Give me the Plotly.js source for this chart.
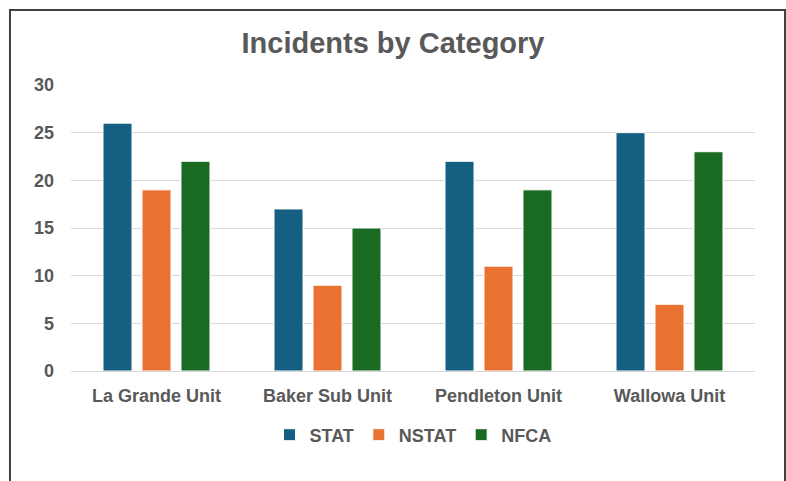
<!DOCTYPE html>
<html>
<head>
<meta charset="utf-8">
<script src="https://cdn.plot.ly/plotly-3.0.1.min.js"></script>
<style>html,body{margin:0;padding:0;background:#fff;}#chart{width:786px;height:481px;}</style>
</head>
<body>
<div id="chart"></div>
<script>
var categories = ["La Grande Unit", "Baker Sub Unit", "Pendleton Unit", "Wallowa Unit"];
var statValues = [26, 17, 22, 25];
var nstatValues = [19, 9, 11, 7];
var nfcaValues = [22, 15, 19, 23];
var seriesNames = ["STAT", "NSTAT", "NFCA"];
var yTicks = [0, 5, 10, 15, 20, 25, 30];

var colors = ["#156082", "#E97132", "#196B24"];
var allValues = [statValues, nstatValues, nfcaValues];
var traces = allValues.map(function (vals, i) {
  return {
    type: "bar",
    name: seriesNames[i],
    x: categories,
    y: vals,
    marker: { color: colors[i], line: { color: "#ffffff", width: 1 } },
    hoverinfo: "x+y+name"
  };
});

var layout = {
  width: 786,
  height: 481,
  margin: { l: 71, r: 31, t: 85, b: 110 },
  paper_bgcolor: "#ffffff",
  plot_bgcolor: "#ffffff",
  font: { family: "Liberation Sans, Arial, sans-serif", color: "#595959" },
  title: {
    text: "<b>Incidents by Category</b>",
    font: { size: 29, color: "#595959" },
    x: 0.5, xanchor: "center",
    y: 1 - 43 / 481, yanchor: "middle", yref: "container"
  },
  barmode: "group",
  bargap: 0.316,
  bargroupgap: 0.256,
  xaxis: {
    tickfont: { size: 18, color: "#595959", weight: "bold" },
    showgrid: false,
    showline: true,
    linecolor: "#d9d9d9",
    linewidth: 1,
    ticks: "",
    ticklabelstandoff: 8
  },
  yaxis: {
    range: [0, 30],
    tickvals: yTicks,
    ticktext: yTicks.map(String),
    tickfont: { size: 18, color: "#595959", weight: "bold" },
    showgrid: true,
    gridcolor: "#d9d9d9",
    gridwidth: 1,
    zeroline: true,
    zerolinecolor: "#d9d9d9",
    showline: false,
    ticks: "",
    ticklabelstandoff: 16,
    fixedrange: true
  },
  legend: {
    orientation: "h",
    x: 0.5, xanchor: "center",
    y: (371 - 435) / 286, yanchor: "middle",
    font: { size: 18, color: "#595959", weight: "bold" },
    itemwidth: 30,
    traceorder: "normal"
  },
  shapes: [{
    type: "path",
    xref: "paper", yref: "paper",
    path: "M -0.0892 -0.45 L -0.0892 1.2622 L 1.0439 1.2622 L 1.0439 -0.45",
    line: { color: "#404040", width: 2 },
    layer: "above"
  }]
};

Plotly.newPlot("chart", traces, layout, { displayModeBar: false, staticPlot: true });
</script>
</body>
</html>
